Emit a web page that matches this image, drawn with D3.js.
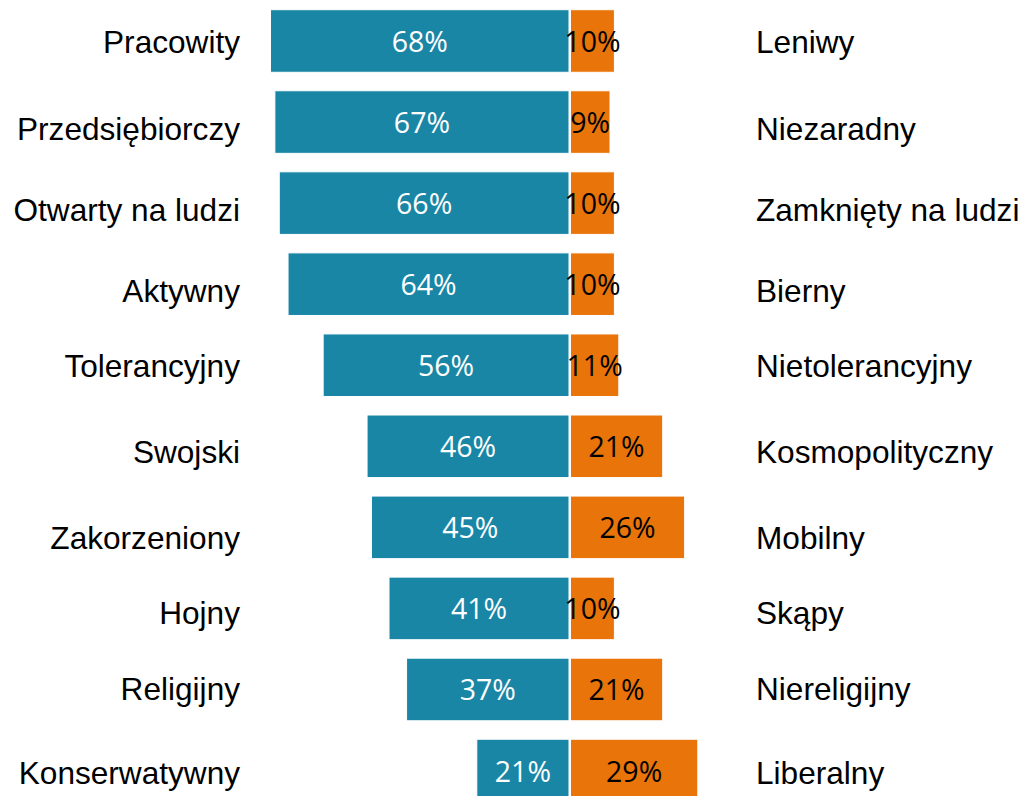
<!DOCTYPE html>
<html>
<head>
<meta charset="utf-8">
<script src="https://cdn.jsdelivr.net/npm/d3@7"></script>
<style>
  html, body { margin: 0; padding: 0; background: #fff; overflow: hidden; }
  svg { display: block; }
</style>
</head>
<body>
<svg id="chart" width="1025" height="796"></svg>
<script>
// ---- data ----
const leftLabels  = ["Pracowity", "Przedsiębiorczy", "Otwarty na ludzi", "Aktywny", "Tolerancyjny",
                     "Swojski", "Zakorzeniony", "Hojny", "Religijny", "Konserwatywny"];
const rightLabels = ["Leniwy", "Niezaradny", "Zamknięty na ludzi", "Bierny", "Nietolerancyjny",
                     "Kosmopolityczny", "Mobilny", "Skąpy", "Niereligijny", "Liberalny"];
const leftValues  = [68, 67, 66, 64, 56, 46, 45, 41, 37, 21];
const rightValues = [10, 9, 10, 10, 11, 21, 26, 10, 21, 29];

// ---- layout (not data) ----
const centerL = 569, centerR = 570.5, pxPer100 = 439;
const labelNudge = [1.5, 7, 7, 6.5, 1, 6, 10.5, 5, -0.5, 2.5]; // text boxes offset from bar centres
const teal = "#1A86A6", orange = "#E8740A";

const svg = d3.select("#chart");

const n = leftLabels.length;
const y = d3.scaleBand()
  .domain(d3.range(n))
  .range([9.7, 9.7 + 81.06 * (n - 0.228)])
  .paddingInner(0.228)
  .paddingOuter(0);

const xL = d3.scaleLinear().domain([0, 100]).range([centerL, centerL - pxPer100]);
const xR = d3.scaleLinear().domain([0, 100]).range([centerR, centerR + pxPer100]);

const rows = leftLabels.map((l, i) => ({
  i, l, r: rightLabels[i], lv: leftValues[i], rv: rightValues[i]
}));

// bars
svg.append("g").selectAll("rect").data(rows).join("rect")
  .attr("x", d => xL(d.lv))
  .attr("y", d => y(d.i))
  .attr("width", d => xL(0) - xL(d.lv))
  .attr("height", y.bandwidth())
  .attr("fill", teal)
  .attr("stroke", "#ffffff")
  .attr("stroke-width", 1);

svg.append("g").selectAll("rect").data(rows).join("rect")
  .attr("x", xR(0))
  .attr("y", d => y(d.i))
  .attr("width", d => xR(d.rv) - xR(0))
  .attr("height", y.bandwidth())
  .attr("fill", orange)
  .attr("stroke", "#ffffff")
  .attr("stroke-width", 1);

// value labels
const valFont = "'Open Sans', 'Lato', sans-serif";
svg.append("g").selectAll("text").data(rows).join("text")
  .attr("x", d => (xL(d.lv) + xL(0)) / 2)
  .attr("y", d => y(d.i) + y.bandwidth() / 2 + 11)
  .attr("text-anchor", "middle")
  .attr("font-family", valFont)
  .attr("font-size", 28.5)
  .attr("fill", "#ffffff")
  .text(d => d.lv + "%");

svg.append("g").selectAll("text").data(rows).join("text")
  .attr("x", d => (xR(d.rv) + xR(0)) / 2)
  .attr("y", d => y(d.i) + y.bandwidth() / 2 + 11)
  .attr("text-anchor", "middle")
  .attr("font-family", valFont)
  .attr("font-size", 28.5)
  .attr("fill", "#000000")
  .text(d => d.rv + "%");

// category labels
const catFont = "'Liberation Sans', Arial, Helvetica, sans-serif";
svg.append("g").selectAll("text").data(rows).join("text")
  .attr("x", 240)
  .attr("y", d => y(d.i) + y.bandwidth() / 2 + labelNudge[d.i] + 11)
  .attr("text-anchor", "end")
  .attr("font-family", catFont)
  .attr("font-size", 31.6)
  .attr("fill", "#000")
  .text(d => d.l);

svg.append("g").selectAll("text").data(rows).join("text")
  .attr("x", 756)
  .attr("y", d => y(d.i) + y.bandwidth() / 2 + labelNudge[d.i] + 11)
  .attr("text-anchor", "start")
  .attr("font-family", catFont)
  .attr("font-size", 31.6)
  .attr("fill", "#000")
  .text(d => d.r);
</script>
</body>
</html>
